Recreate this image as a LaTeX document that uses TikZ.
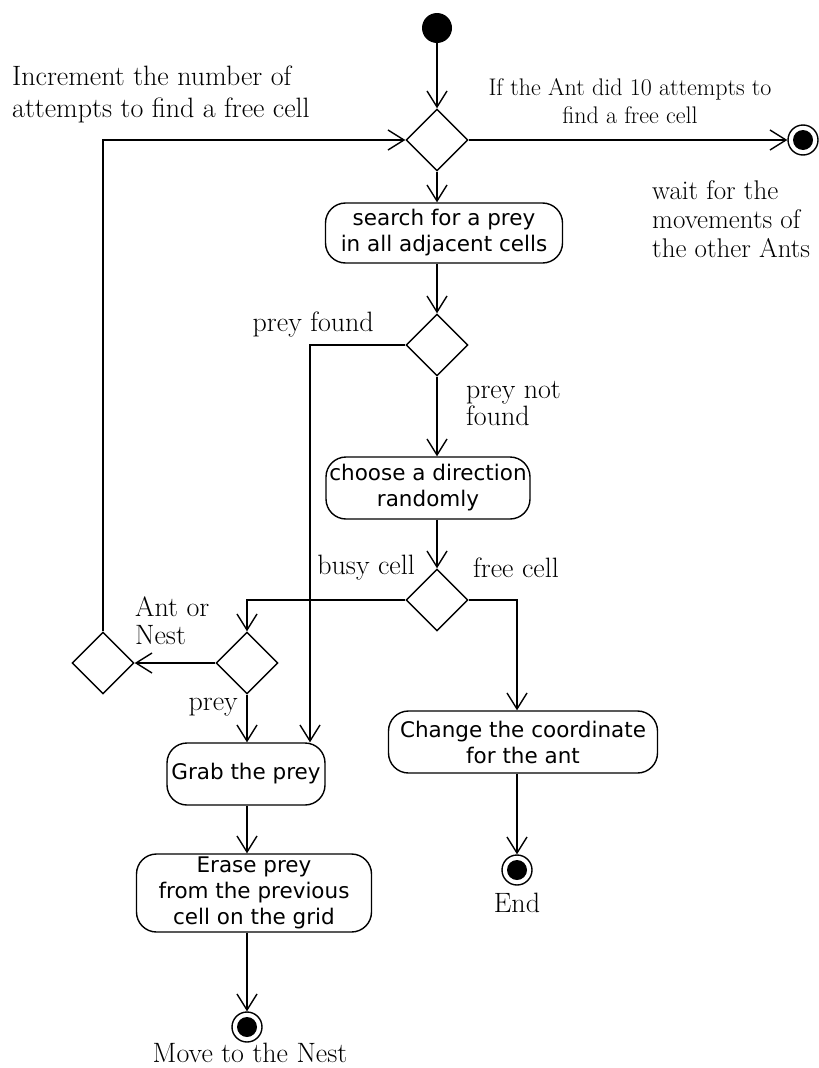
\documentclass[tikz,border=0pt]{standalone}
\usepackage{fontspec}
\newfontfamily\boxfont{DejaVu Sans}
\usetikzlibrary{arrows.meta,shapes.geometric}
\begin{document}
\begin{tikzpicture}[x=1pt,y=-1pt,
  ln/.style={line width=1.4pt},
  arr/.style={line width=1.4pt,-{Straight Barb[length=16pt,width=20pt,line width=1.4pt]}},
  dec/.style={diamond,draw,line width=1.4pt,minimum width=62pt,minimum height=62pt,inner sep=0pt,aspect=1},
  act/.style={draw,line width=1.4pt,rounded corners=20pt,font=\boxfont\fontsize{21.5}{26}\selectfont,align=center,inner sep=0pt},
  lbl/.style={font=\fontsize{28}{30}\selectfont,inner sep=0pt},
  initialst/.style={circle,fill=black,minimum size=30pt,inner sep=0pt},
  finalst/.style={circle,draw,line width=1.4pt,minimum size=30pt,inner sep=0pt,
    path picture={\fill (path picture bounding box.center) circle (10pt);}}]
\useasboundingbox (0,0) rectangle (819,1068);
% nodes
\node[initialst] (start) at (437,28) {};
\node[dec] (d1) at (437,140) {};
\node[finalst] (f1) at (803,140) {};
\node[act,minimum width=237pt,minimum height=60pt] (search) at (444,233) {search for a prey\\in all adjacent cells};
\node[dec] (d2) at (437,345) {};
\node[act,minimum width=204pt,minimum height=62pt] (choose) at (428,488) {choose a direction\\randomly};
\node[dec] (d3) at (437,600) {};
\node[dec] (d4) at (247,663) {};
\node[dec] (d5) at (103,663) {};
\node[act,minimum width=158pt,minimum height=62pt] (grab) at (246,774) {Grab the prey};
\node[act,minimum width=235pt,minimum height=78pt] (erase) at (254,893) {Erase prey\\from the previous\\cell on the grid};
\node[finalst] (nest) at (247,1027) {};
\node[act,minimum width=269pt,minimum height=62pt] (change) at (523,742) {Change the coordinate\\for the ant};
\node[finalst] (end) at (517,870) {};
% labels
\node[lbl,font=\fontsize{28}{32}\selectfont,align=left,anchor=west] (incr) at (12,94) {Increment the number of\\attempts to find a free cell};
\node[lbl,font=\fontsize{24}{28}\selectfont,align=center] (ifant) at (630,101) {If the Ant did 10 attempts to\\find a free cell};
\node[lbl,font=\fontsize{27}{29}\selectfont,align=left,anchor=west] (wait) at (652,219) {wait for the\\movements of\\the other Ants};
\node[lbl,anchor=east] (pf) at (374,325) {prey found};
\node[lbl,font=\fontsize{28}{27}\selectfont,align=left,anchor=west] (pnf) at (466,403) {prey not\\found};
\node[lbl,anchor=east] (busy) at (415,568) {busy cell};
\node[lbl,anchor=west] (free) at (473,568) {free cell};
\node[lbl,font=\fontsize{28}{28}\selectfont,align=left,anchor=west] (antnest) at (135,621) {Ant or\\Nest};
\node[lbl,anchor=east] (preyl) at (238,707) {prey};
\node[lbl] (endl) at (517,903) {End};
\node[lbl] (movel) at (250,1053) {Move to the Nest};
% connectors
\draw[arr] (start) -- (d1);
\draw[arr] (d1.east) -- (f1);
\draw[arr] (d1.south) -- (d1.south |- search.north);
\draw[arr] (d1.south |- search.south) -- (d2.north);
\draw[arr] (d2.west) -| ([xshift=64pt]grab.north);
\draw[arr] (d2.south) -- (d2.south |- choose.north);
\draw[arr] (d3.north |- choose.south) -- (d3.north);
\draw[arr] (d3.west) -| (d4.north);
\draw[arr] (d3.east) -| (end |- change.north);
\draw[arr] (d4.west) -- (d5.east);
\draw[arr] (d5.north) |- (d1.west);
\draw[arr] (d4.south) -- (d4.south |- grab.north);
\draw[arr] (d4.south |- grab.south) -- (d4.south |- erase.north);
\draw[arr] (nest |- erase.south) -- (nest);
\draw[arr] (end |- change.south) -- (end);
\end{tikzpicture}
\end{document}
